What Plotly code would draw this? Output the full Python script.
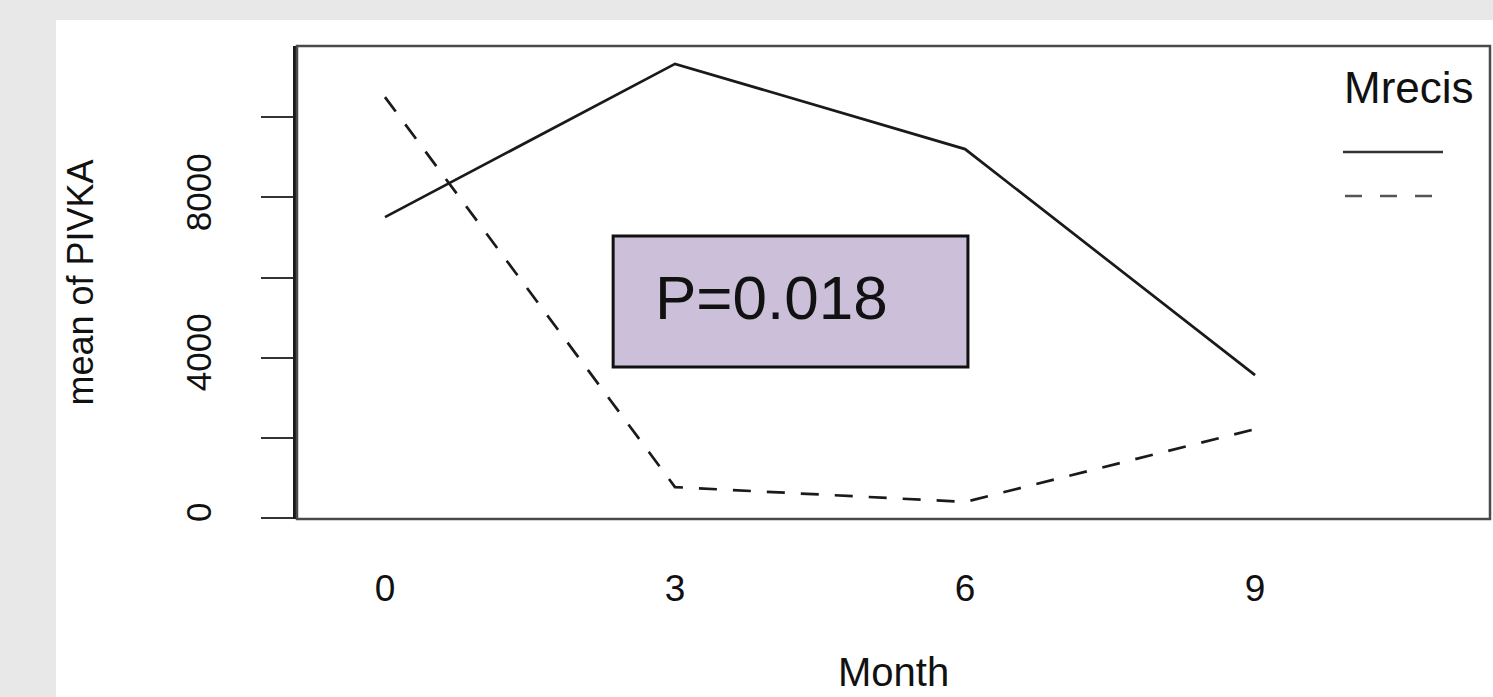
import plotly.graph_objects as go

# Mean PIVKA by month for the two Mrecis groups
months = [0, 3, 6, 9]
month_labels = ["0", "3", "6", "9"]
pivka_group1 = [7510, 11340, 9210, 3560]
pivka_group2 = [10510, 760, 390, 2210]
y_ticks = [0, 2000, 4000, 6000, 8000, 10000]
y_tick_labels = ["0", "", "4000", "", "8000", ""]
p_text = "P=0.018"

FONT = "Liberation Sans, Arial, sans-serif"
W, H = 1493, 697
L, R, T, B = 297, 3, 46, 178
PW, PH = W - L - R, H - T - B


def px_x(px):
    return (px - L) / PW


def px_y(py):
    return (H - B - py) / PH


fig = go.Figure()
fig.add_trace(go.Scatter(x=months, y=pivka_group1, mode="lines", name="1",
                         line=dict(color="#1a1a1a", width=2.7)))
fig.add_trace(go.Scatter(x=months, y=pivka_group2, mode="lines", name="2",
                         line=dict(color="#1a1a1a", width=2.7, dash="18px,16px")))

shapes = [
    # white panel behind the chart
    dict(type="rect", xref="paper", yref="paper", layer="below",
         x0=px_x(56), x1=1.01, y0=-0.45, y1=px_y(20),
         fillcolor="white", line=dict(width=0)),
    # plot frame
    dict(type="rect", xref="paper", yref="paper",
         x0=0, x1=1, y0=0, y1=1, line=dict(color="#4a4a4a", width=2.5)),
    # P-value box
    dict(type="rect", xref="x", yref="y", x0=2.36, x1=6.03, y0=3760, y1=7040,
         fillcolor="#cbbfd9", line=dict(color="#111111", width=3)),
    # legend samples
    dict(type="line", xref="paper", yref="paper",
         x0=px_x(1343), x1=px_x(1443), y0=px_y(152), y1=px_y(152),
         line=dict(color="#333333", width=2.5)),
    dict(type="line", xref="paper", yref="paper",
         x0=px_x(1345), x1=px_x(1437), y0=px_y(196), y1=px_y(196),
         line=dict(color="#555555", width=2.5, dash="17px,18px")),
]

annotations = [
    dict(text=p_text, xref="x", yref="y", x=4.0, y=5490, showarrow=False,
         font=dict(family=FONT, size=62, color="#111111")),
    dict(text="Month", xref="paper", yref="paper", x=0.5, y=px_y(696),
         xanchor="center", yanchor="bottom", showarrow=False,
         font=dict(family=FONT, size=40, color="#111111")),
    dict(text="mean of PIVKA", xref="paper", yref="paper", x=px_x(80), y=0.5,
         xanchor="center", yanchor="middle", textangle=-90, showarrow=False,
         font=dict(family=FONT, size=36, color="#111111")),
    dict(text="Mrecis", xref="paper", yref="paper", x=px_x(1342), y=px_y(87),
         xanchor="left", yanchor="middle", showarrow=False,
         font=dict(family=FONT, size=44, color="#111111")),
]

fig.update_layout(
    width=W, height=H,
    margin=dict(l=L, r=R, t=T, b=B, autoexpand=False),
    paper_bgcolor="#e8e8e8",
    plot_bgcolor="white",
    showlegend=False,
    shapes=shapes,
    annotations=annotations,
    xaxis=dict(range=[-0.91, 11.43], tickvals=months, ticktext=month_labels,
               showgrid=False, zeroline=False, showline=False,
               ticks="outside", ticklen=37, tickcolor="rgba(0,0,0,0)",
               tickfont=dict(family=FONT, size=37, color="#111111")),
    yaxis=dict(range=[-37, 11787], tickvals=y_ticks, ticktext=y_tick_labels,
               showgrid=False, zeroline=False,
               showline=True, linecolor="#1a1a1a", linewidth=3.5,
               ticks="outside", ticklen=32, tickwidth=2, tickcolor="#333333",
               tickangle=-90, ticklabelstandoff=36,
               tickfont=dict(family=FONT, size=35, color="#111111")),
)

fig.write_html("out.html")
